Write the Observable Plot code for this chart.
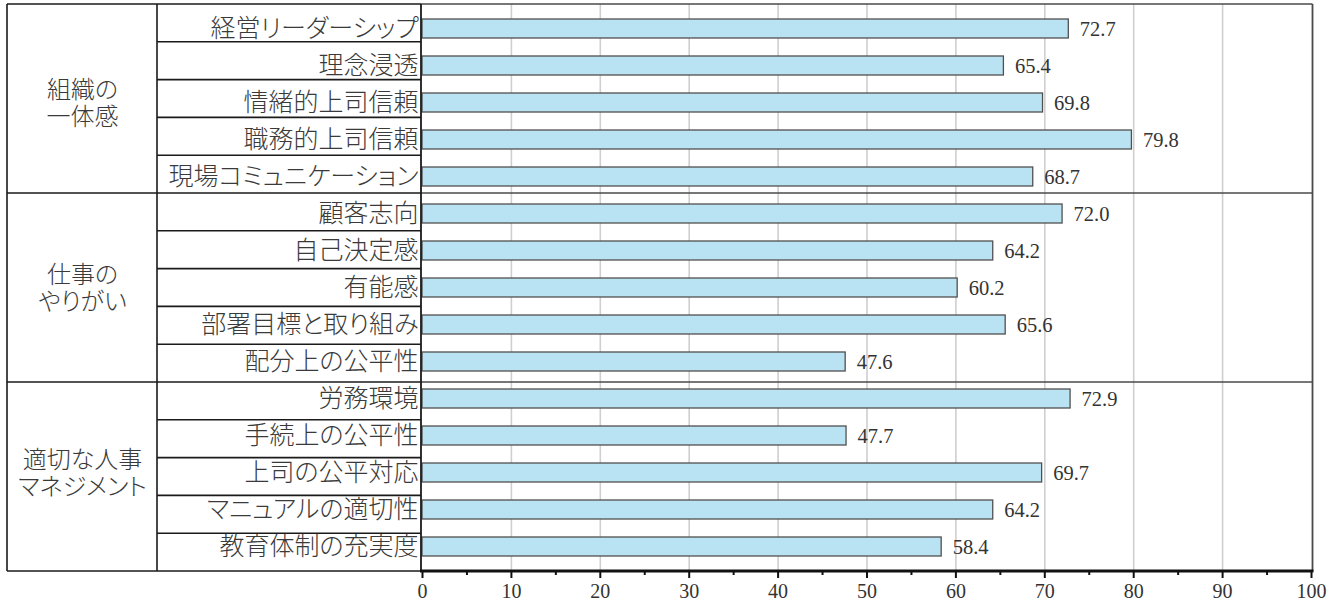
<!DOCTYPE html>
<html>
<head>
<meta charset="utf-8">
<script src="https://cdn.jsdelivr.net/npm/d3@7"></script>
<script src="https://cdn.jsdelivr.net/npm/@observablehq/plot@0.6"></script>
<style>
  html, body { margin: 0; padding: 0; background: #fff; }
</style>
</head>
<body>
<div id="chart"></div>
<script>
// Survey scores by item, grouped into three categories
const groups = ["組織の\n一体感", "仕事の\nやりがい", "適切な人事\nマネジメント"];
const items = [
  "経営リーダーシップ", "理念浸透", "情緒的上司信頼", "職務的上司信頼", "現場コミュニケーション",
  "顧客志向", "自己決定感", "有能感", "部署目標と取り組み", "配分上の公平性",
  "労務環境", "手続上の公平性", "上司の公平対応", "マニュアルの適切性", "教育体制の充実度"
];
const itemGroup = [0, 0, 0, 0, 0, 1, 1, 1, 1, 1, 2, 2, 2, 2, 2];
const scores = [72.7, 65.4, 69.8, 79.8, 68.7, 72.0, 64.2, 60.2, 65.6, 47.6, 72.9, 47.7, 69.7, 64.2, 58.4];
const majorTicks = [0, 10, 20, 30, 40, 50, 60, 70, 80, 90, 100];
const minorTicks = [5, 15, 25, 35, 45, 55, 65, 75, 85, 95];

const rows = items.map((item, i) => ({item, group: itemGroup[i], value: scores[i]}));

const W = 1340, H = 601;
const M = {top: 4, right: 29, bottom: 30, left: 422};
const tableLeft = 7, groupColRight = 157;
const jpFont = "'Noto Sans CJK JP', sans-serif";
const numFont = "'Liberation Serif', serif";
const labelSize = 25;
const groupSize = 24;

// table grid: outer border, column dividers, row and group separators
function tableGrid(index, scales, values, dims) {
  const x = scales.x;
  const top = dims.marginTop, bottom = dims.height - dims.marginBottom;
  const step = (bottom - top) / items.length;
  const x0 = x(0) - 1, xr = x(100) + 1.5;
  const g = d3.create("svg:g").attr("fill", "none");
  const line = (x1, y1, x2, y2, stroke, w) =>
    g.append("line").attr("x1", x1).attr("y1", y1).attr("x2", x2).attr("y2", y2)
      .attr("stroke", stroke).attr("stroke-width", w);
  // row separators in the label column
  for (let k = 1; k < items.length; k++) {
    const yy = top + k * step;
    if (itemGroup[k] !== itemGroup[k - 1]) {
      line(tableLeft, yy, x0, yy, "#1a1a1a", 1.6);
      line(x0, yy, xr, yy, "#4a4a4a", 1.4);
    } else {
      line(groupColRight, yy, x0, yy, "#1a1a1a", 1.6);
    }
  }
  // top border
  line(tableLeft, top, x0, top, "#1a1a1a", 1.6);
  line(x0, top, xr, top, "#4a4a4a", 1.4);
  // bottom of table
  line(tableLeft, bottom, x0, bottom, "#1a1a1a", 1.6);
  // vertical borders
  line(tableLeft, top, tableLeft, bottom, "#1a1a1a", 1.6);
  line(groupColRight, top, groupColRight, bottom, "#1a1a1a", 1.6);
  line(x0, top, x0, bottom, "#1a1a1a", 1.8);
  line(xr, top, xr, bottom, "#4a4a4a", 1.8);
  // axis baseline
  line(x0 - 1, bottom, xr + 1, bottom, "#111", 3);
  return g.node();
}

// group labels sit on the middle row of each group, centred in the first column
const groupMarks = groups.map((name, gi) => {
  const first = itemGroup.indexOf(gi);
  const count = itemGroup.filter(g => g === gi).length;
  const mid = items[first + Math.floor(count / 2)];
  const centerX = (tableLeft + groupColRight) / 2;
  return Plot.text([name], {
    y: [mid],
    text: d => d,
    frameAnchor: "left",
    textAnchor: "middle",
    lineAnchor: "middle",
    lineHeight: 1.14,
    dx: centerX - M.left,
    fontFamily: jpFont,
    fontWeight: 300,
    fontSize: groupSize,
    fill: "#3a3a3a"
  });
});

const chart = Plot.plot({
  width: W,
  height: H,
  marginTop: M.top,
  marginRight: M.right,
  marginBottom: M.bottom,
  marginLeft: M.left,
  style: {background: "#fff", overflow: "visible"},
  x: {domain: [0, 100], axis: null},
  y: {domain: items, paddingInner: 0.5, paddingOuter: 0.25, axis: null},
  marks: [
    Plot.gridX(majorTicks.filter(t => t > 0 && t < 100), {stroke: "#cfcfcf", strokeOpacity: 1, strokeWidth: 1.6}),
    Plot.barX(rows, {
      x: "value", y: "item",
      fill: "#b9e3f2", stroke: "#505050", strokeWidth: 1.3
    }),
    Plot.text(rows, {
      x: "value", y: "item",
      text: d => d.value.toFixed(1),
      dx: 11, textAnchor: "start",
      fontFamily: numFont, fontSize: 20.5, fill: "#333"
    }),
    Plot.text(rows, {
      y: "item", text: "item",
      frameAnchor: "left", textAnchor: "end", dx: -4,
      fontFamily: jpFont, fontWeight: 300, fontSize: labelSize, fill: "#3a3a3a"
    }),
    ...groupMarks,
    tableGrid,
    Plot.axisX(majorTicks, {
      label: null,
      tickSize: 7, tickPadding: 5, stroke: "#111", strokeWidth: 2,
      tickFormat: d3.format("d"),
      fontFamily: numFont, fontSize: 20, fill: "#333"
    }),
    Plot.axisX(minorTicks, {
      label: null,
      tickSize: 4, stroke: "#111", strokeWidth: 2,
      tickFormat: () => ""
    })
  ]
});

// proportional kana spacing for the Japanese labels
d3.select(chart).selectAll("g[font-family*='Noto Sans CJK JP']")
  .style("font-feature-settings", "'palt' 1")
  .selectAll("text, tspan")
  .style("font-feature-settings", "'palt' 1");

document.getElementById("chart").appendChild(chart);
</script>
</body>
</html>
